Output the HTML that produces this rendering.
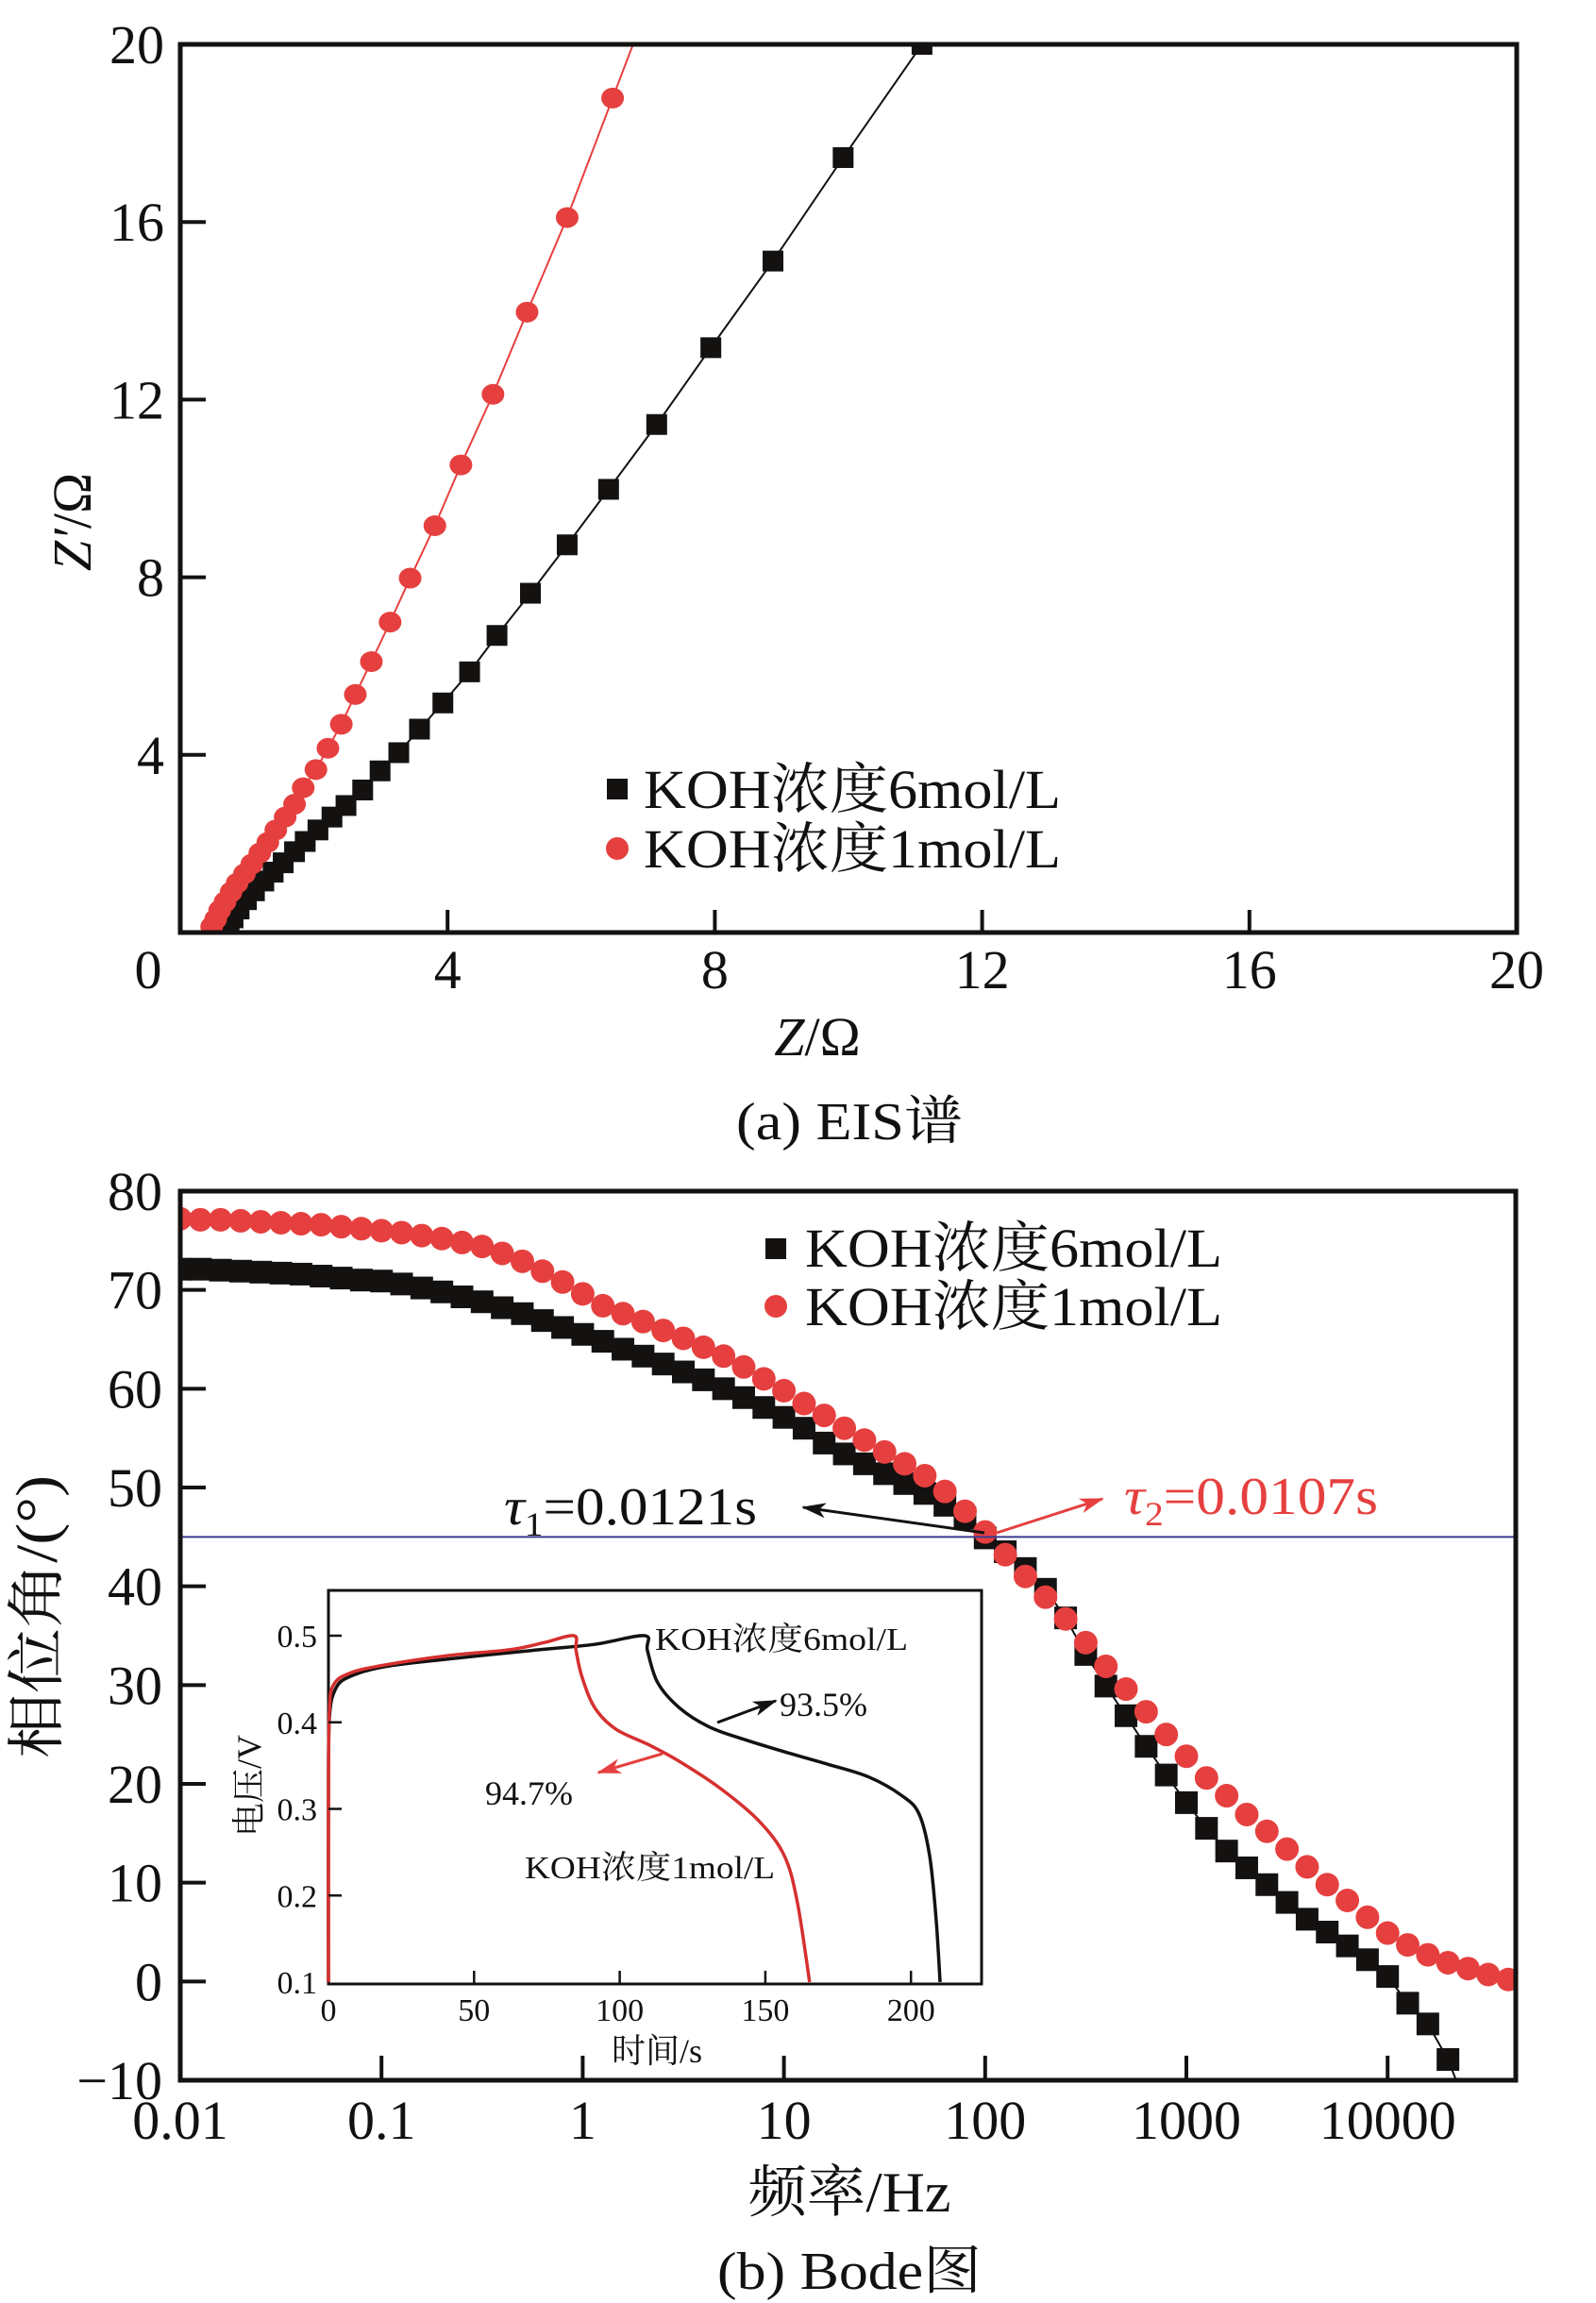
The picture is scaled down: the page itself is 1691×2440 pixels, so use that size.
<!DOCTYPE html>
<html><head><meta charset="utf-8"><style>
html,body{margin:0;padding:0;background:#fff}
svg{display:block}
text{font-family:"Liberation Serif","Noto Serif CJK SC","Noto Sans CJK SC",serif;fill:#111}
</style></head><body>
<svg id="fig" width="1691" height="2440" viewBox="0 0 1691 2440" xmlns="http://www.w3.org/2000/svg">
<defs>
<clipPath id="clipA"><rect x="191" y="47" width="1416" height="941"/></clipPath>
<clipPath id="clipB"><rect x="191" y="1262" width="1415" height="942"/></clipPath>
</defs>
<g id="eis"></g>
<g id="bode"></g>
<g id="inset"></g>
</svg>
<script>
// ---------- EIS data ----------
const eisZre6 = [0.73,0.79,0.88,0.99,1.11,1.25,1.39,1.54,1.71,1.87,2.06,2.27,2.48,2.73,2.99,3.27,3.58,3.93,4.33,4.74,5.24,5.79,6.41,7.13,7.94,8.87,9.92,11.10];
const eisZim6 = [0.13,0.33,0.53,0.74,0.94,1.16,1.36,1.57,1.82,2.05,2.31,2.60,2.86,3.21,3.64,4.05,4.58,5.17,5.87,6.69,7.64,8.73,9.98,11.44,13.17,15.12,17.45,20.0];
const eisZre1 = [0.47,0.53,0.59,0.67,0.76,0.85,0.96,1.07,1.19,1.31,1.43,1.57,1.71,1.84,2.03,2.21,2.41,2.62,2.86,3.14,3.44,3.81,4.20,4.68,5.19,5.79,6.47];
const eisZim1 = [0.13,0.30,0.50,0.69,0.91,1.11,1.32,1.54,1.79,2.03,2.31,2.60,2.89,3.26,3.67,4.15,4.69,5.36,6.10,6.99,7.98,9.16,10.53,12.12,13.97,16.10,18.79];
const eisXTicks = [0,4,8,12,16,20];
const eisYTicks = [4,8,12,16,20];
// ---------- Bode data ----------
const bodeLogF1 = [-2.0,-1.9,-1.8,-1.7,-1.6,-1.5,-1.4,-1.3,-1.2,-1.1,-1.0,-0.9,-0.8,-0.7,-0.6,-0.5,-0.4,-0.3,-0.2,-0.1,0.0,0.1,0.2,0.3,0.4,0.5,0.6,0.7,0.8,0.9,1.0,1.1,1.2,1.3,1.4,1.5,1.6,1.7,1.8,1.9,2.0,2.1,2.2,2.3,2.4,2.5,2.6,2.7,2.8,2.9,3.0,3.1,3.2,3.3,3.4,3.5,3.6,3.7,3.8,3.9,4.0,4.1,4.2,4.3,4.4,4.5,4.6];
const bodePhase1 = [77.2,77.1,77.1,77.0,76.9,76.8,76.7,76.6,76.4,76.2,76.0,75.8,75.5,75.2,74.8,74.4,73.7,72.9,71.9,70.8,69.6,68.4,67.6,66.8,65.9,65.1,64.2,63.3,62.2,61.0,59.8,58.5,57.3,56.0,54.8,53.6,52.4,51.2,49.6,47.6,45.5,43.2,41.0,38.9,36.7,34.3,31.9,29.6,27.3,25.0,22.8,20.6,18.8,16.9,15.2,13.4,11.6,9.8,8.2,6.5,4.9,3.7,2.7,1.9,1.3,0.7,0.2];
const bodeLogF6 = [-2.0,-1.9,-1.8,-1.7,-1.6,-1.5,-1.4,-1.3,-1.2,-1.1,-1.0,-0.9,-0.8,-0.7,-0.6,-0.5,-0.4,-0.3,-0.2,-0.1,0.0,0.1,0.2,0.3,0.4,0.5,0.6,0.7,0.8,0.9,1.0,1.1,1.2,1.3,1.4,1.5,1.6,1.7,1.8,1.9,2.0,2.1,2.2,2.3,2.4,2.5,2.6,2.7,2.8,2.9,3.0,3.1,3.2,3.3,3.4,3.5,3.6,3.7,3.8,3.9,4.0,4.1,4.2,4.3];
const bodePhase6 = [72.1,72.1,72.0,71.9,71.8,71.7,71.6,71.4,71.2,71.0,70.9,70.6,70.2,69.8,69.3,68.8,68.2,67.6,66.9,66.2,65.5,64.8,64.0,63.3,62.5,61.7,60.9,60.0,59.1,58.1,57.1,56.0,54.5,53.4,52.4,51.4,50.4,49.4,48.2,46.9,44.9,43.5,41.8,39.7,36.8,33.1,29.9,26.9,23.8,20.9,18.1,15.5,13.2,11.5,9.8,8.0,6.3,5.0,3.6,2.2,0.5,-2.2,-4.3,-7.9];
const bodeXTickVals = [0.01,0.1,1,10,100,1000,10000];
const bodeXTickLabels = ["0.01","0.1","1","10","100","1000","10000"];
const bodeYTicks = [80,70,60,50,40,30,20,10,0,-10];
const bodeYTickLabels = ["80","70","60","50","40","30","20","10","0","\u221210"];
// ---------- Inset data ----------
const insT6 = [0,0,0.3,2.5,7.5,19,41,70,91.4,108.5,109.5,113,120.4,130.5,142,156.5,171,185.4,197,202.8,206.4,208.6,210];
const insV6 = [0.1,0.3,0.403,0.439,0.453,0.464,0.473,0.483,0.49,0.5,0.483,0.446,0.417,0.395,0.381,0.366,0.352,0.337,0.315,0.294,0.246,0.174,0.1];
const insT1 = [0,0,0.3,1.7,7.5,19,41,62.5,74,84.3,85,87,91.4,98.7,110,120.4,134.8,147.8,156.5,161,165.2];
const insV1 = [0.1,0.3,0.41,0.443,0.457,0.466,0.477,0.484,0.492,0.5,0.483,0.453,0.417,0.392,0.374,0.355,0.323,0.286,0.246,0.192,0.1];
const insXTicks = [0,50,100,150,200];
const insYTicks = [0.1,0.2,0.3,0.4,0.5];

const NS = "http://www.w3.org/2000/svg";
function mk(parent, tag, attrs, txt){
  const e = document.createElementNS(NS, tag);
  for (const k in attrs) e.setAttribute(k, attrs[k]);
  if (txt !== undefined) e.textContent = txt;
  parent.appendChild(e); return e;
}
const RED = "#e5403f", BLK = "#141111";

// ================= EIS =================
(function(){
  const g = document.getElementById('eis');
  const L=191,R=1607,T=47,B=988;
  const xs = v => L + (v/20)*(R-L);
  const ys = v => B - (v/20)*(B-T);
  const cg = mk(g,'g',{'clip-path':'url(#clipA)'});
  function line(xa, ya, col, name){
    let pts = xa.map((x,i)=>xs(x)+','+ys(ya[i]));
    const n = xa.length;
    const ex = xa[n-1] + (xa[n-1]-xa[n-2])*2, ey = ya[n-1] + (ya[n-1]-ya[n-2])*2;
    pts.push(xs(ex)+','+ys(ey));
    const p = mk(cg,'polyline',{points:pts.join(' '),fill:'none',stroke:col,'stroke-width':2});
    
    
  }
  line(eisZre1, eisZim1, RED, 'eis-line-1mol');
  line(eisZre6, eisZim6, BLK, 'eis-line-6mol');
  eisZre6.forEach((x,i)=>{
    const r = mk(cg,'rect',{x:xs(x)-11,y:ys(eisZim6[i])-11,width:22,height:22,fill:BLK});
    
    
  });
  eisZre1.forEach((x,i)=>{
    const c = mk(cg,'ellipse',{cx:xs(x),cy:ys(eisZim1[i]),rx:12,ry:11,fill:RED});
    
    
  });
  const f = mk(g,'rect',{x:L,y:T,width:R-L,height:B-T,fill:'none',stroke:BLK,'stroke-width':5});
  
  
  eisXTicks.forEach(v=>{
    if (v>0 && v<20) mk(g,'line',{x1:xs(v),x2:xs(v),y1:B,y2:B-24,stroke:BLK,'stroke-width':4});
    const t = mk(g,'text',{x:(v===0?157:xs(v)),y:1047,'font-size':58,'text-anchor':'middle'},String(v));
    
    
  });
  eisYTicks.forEach(v=>{
    if (v<20) mk(g,'line',{x1:L,x2:L+27,y1:ys(v),y2:ys(v),stroke:BLK,'stroke-width':4});
    const t = mk(g,'text',{x:174,y:ys(v)+20,'font-size':58,'text-anchor':'end'},String(v));
    
    
  });
})();

// ================= Bode =================
(function(){
  const g = document.getElementById('bode');
  const L=191,R=1606,T=1262,B=2204;
  const DEC = 213.2;
  const xs = lf => L + (lf+2)*DEC;
  const ys = v => T + (80-v)*(B-T)/90;
  const cg = mk(g,'g',{'clip-path':'url(#clipB)'});
  const hl = mk(g,'line',{x1:L,x2:R,y1:ys(45),y2:ys(45),stroke:'#3b3b8f','stroke-width':2});
  
  
  const pl = mk(cg,'polyline',{points:bodeLogF6.map((x,i)=>xs(x)+','+ys(bodePhase6[i])).join(' ')+' '+xs(4.36)+','+ys(-11),fill:'none',stroke:BLK,'stroke-width':2});
  
  
  bodeLogF6.forEach((x,i)=>{
    const r = mk(cg,'rect',{x:xs(x)-12,y:ys(bodePhase6[i])-12,width:24,height:24,fill:BLK});
    
    
  });
  bodeLogF1.forEach((x,i)=>{
    const c = mk(cg,'circle',{cx:xs(x),cy:ys(bodePhase1[i]),r:12.5,fill:RED});
    
    
  });
  const f = mk(g,'rect',{x:L,y:T,width:R-L,height:B-T,fill:'none',stroke:BLK,'stroke-width':5});
  
  
  bodeXTickVals.forEach((v,i)=>{
    const x = xs(Math.log10(v));
    if (i>0) mk(g,'line',{x1:x,x2:x,y1:B,y2:B-26,stroke:BLK,'stroke-width':4});
    const t = mk(g,'text',{x:x,y:2266,'font-size':58,'text-anchor':'middle'},bodeXTickLabels[i]);
    
    
  });
  bodeYTicks.forEach((v,i)=>{
    if (v<80 && v>-10) mk(g,'line',{x1:L,x2:L+27,y1:ys(v),y2:ys(v),stroke:BLK,'stroke-width':4});
    const t = mk(g,'text',{x:172,y:ys(v)+20,'font-size':58,'text-anchor':'end'},bodeYTickLabels[i]);
    
    
  });
})();

// ================= Inset =================
(function(){
  const g = document.getElementById('inset');
  const L=348,R=1040,T=1685,B=2102;
  const xs = t => L + t*(154.3/50);
  const ys = v => 2100 - (v-0.1)*917.5;
  function smooth(P){
    let d = 'M'+P[0][0]+','+P[0][1];
    for (let i=0;i<P.length-1;i++){
      const p0=P[Math.max(0,i-1)], p1=P[i], p2=P[i+1], p3=P[Math.min(P.length-1,i+2)];
      const c1x=p1[0]+(p2[0]-p0[0])/6, c1y=p1[1]+(p2[1]-p0[1])/6;
      const c2x=p2[0]-(p3[0]-p1[0])/6, c2y=p2[1]-(p3[1]-p1[1])/6;
      d += ' C'+c1x+','+c1y+' '+c2x+','+c2y+' '+p2[0]+','+p2[1];
    }
    return d;
  }
  mk(g,'rect',{x:L,y:T,width:R-L,height:B-T,fill:'none',stroke:BLK,'stroke-width':3});
  const p6 = mk(g,'path',{d:smooth(insT6.map((t,i)=>[xs(t),ys(insV6[i])])),fill:'none',stroke:BLK,'stroke-width':3.5,'stroke-linejoin':'round'});
  
  
  const p1 = mk(g,'path',{d:smooth(insT1.map((t,i)=>[xs(t),ys(insV1[i])])),fill:'none',stroke:'#d63030','stroke-width':3.5,'stroke-linejoin':'round'});
  
  
  insXTicks.forEach(v=>{
    if (v>0) mk(g,'line',{x1:xs(v),x2:xs(v),y1:B,y2:B-14,stroke:BLK,'stroke-width':2.5});
    const t = mk(g,'text',{x:xs(v),y:2141,'font-size':34,'text-anchor':'middle'},String(v));
    
    
  });
  insYTicks.forEach(v=>{
    if (v>0.1) mk(g,'line',{x1:L,x2:L+14,y1:ys(v),y2:ys(v),stroke:BLK,'stroke-width':2.5});
    const t = mk(g,'text',{x:336,y:ys(v)+12,'font-size':34,'text-anchor':'end'},v.toFixed(1));
    
    
  });
})();
</script>
<svg style="position:absolute;left:0;top:0" width="1691" height="2440" viewBox="0 0 1691 2440" xmlns="http://www.w3.org/2000/svg">
<defs>
<marker id="ak" markerWidth="26" markerHeight="16" refX="24" refY="8" orient="auto" markerUnits="userSpaceOnUse"><path d="M0,0 L26,8 L0,16 L7,8z" fill="#141111"/></marker>
<marker id="ar" markerWidth="26" markerHeight="16" refX="24" refY="8" orient="auto" markerUnits="userSpaceOnUse"><path d="M0,0 L26,8 L0,16 L7,8z" fill="#e5403f"/></marker>
</defs>
<style>text{font-family:"Liberation Serif","Noto Serif CJK SC","Noto Sans CJK SC",serif;fill:#111}</style>
<g>
<rect x="643" y="825" width="22" height="22" fill="#141111"/>
<text x="682" y="856" font-size="58" textLength="442" lengthAdjust="spacingAndGlyphs">KOH浓度6mol/L</text>
<circle cx="654" cy="899" r="12" fill="#e5403f"/>
<text x="682" y="919" font-size="58" textLength="442" lengthAdjust="spacingAndGlyphs">KOH浓度1mol/L</text>
</g>
<text x="866" y="1118" font-size="58" text-anchor="middle"><tspan font-style="italic">Z</tspan>/Ω</text>
<text transform="translate(96,553) rotate(-90)" font-size="58" text-anchor="middle"><tspan font-style="italic">Z′</tspan>/Ω</text>
<text x="900" y="1207" font-size="56" text-anchor="middle" textLength="240" lengthAdjust="spacingAndGlyphs">(a) EIS谱</text>
<g>
<rect x="811" y="1312" width="22" height="22" fill="#141111"/>
<text x="853" y="1342" font-size="58" textLength="442" lengthAdjust="spacingAndGlyphs">KOH浓度6mol/L</text>
<circle cx="822" cy="1384" r="12" fill="#e5403f"/>
<text x="853" y="1404" font-size="58" textLength="442" lengthAdjust="spacingAndGlyphs">KOH浓度1mol/L</text>
</g>
<text x="534" y="1615" font-size="56" textLength="268" lengthAdjust="spacingAndGlyphs"><tspan font-style="italic">τ</tspan><tspan font-size="36" dy="12">1</tspan><tspan dy="-12">=0.0121s</tspan></text>
<line x1="1043" y1="1624" x2="851" y2="1597" stroke="#141111" stroke-width="3" marker-end="url(#ak)"/>
<text x="1191" y="1604" font-size="56" textLength="269" lengthAdjust="spacingAndGlyphs" style="fill:#e5403f"><tspan font-style="italic">τ</tspan><tspan font-size="36" dy="12">2</tspan><tspan dy="-12">=0.0107s</tspan></text>
<line x1="1056" y1="1624" x2="1168" y2="1588" stroke="#e5403f" stroke-width="3" marker-end="url(#ar)"/>
<text x="900" y="2343" font-size="60" text-anchor="middle" textLength="215" lengthAdjust="spacingAndGlyphs">频率/Hz</text>
<text transform="translate(60,1713) rotate(-90)" font-size="62" text-anchor="middle" textLength="300" lengthAdjust="spacingAndGlyphs">相位角/(°)</text>
<text x="900" y="2425" font-size="56" text-anchor="middle" textLength="280" lengthAdjust="spacingAndGlyphs">(b) Bode图</text>
<text x="694" y="1748" font-size="34" textLength="268" lengthAdjust="spacingAndGlyphs">KOH浓度6mol/L</text>
<text x="556" y="1990" font-size="34" textLength="265" lengthAdjust="spacingAndGlyphs">KOH浓度1mol/L</text>
<text x="826" y="1818" font-size="36">93.5%</text>
<line x1="760" y1="1825" x2="822" y2="1802" stroke="#141111" stroke-width="3" marker-end="url(#ak)"/>
<text x="514" y="1912" font-size="36">94.7%</text>
<line x1="702" y1="1858" x2="634" y2="1878" stroke="#e5403f" stroke-width="3" marker-end="url(#ar)"/>
<text x="696" y="2185" font-size="36" text-anchor="middle">时间/s</text>
<text transform="translate(276,1892) rotate(-90)" font-size="36" text-anchor="middle">电压/V</text>
</svg>
</body></html>
